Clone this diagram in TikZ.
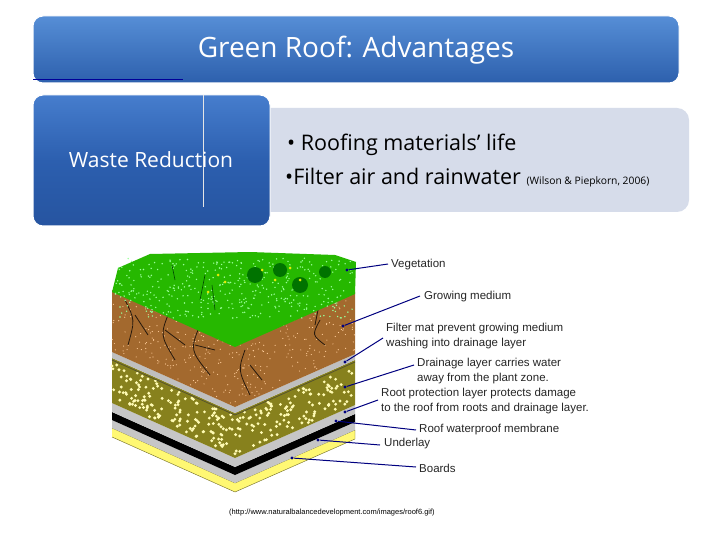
\documentclass[tikz,border=0pt]{standalone}
\usepackage{fontspec}
\setmainfont{Open Sans}
\newfontfamily\arial{Liberation Sans}
\begin{document}
\begin{tikzpicture}[x=1pt,y=-1pt,
  lead/.style={draw=blue!50!black,line width=1pt},
  ldot/.style={circle,fill=blue!50!black,inner sep=1.2pt},
  lab/.style={font=\arial\fontsize{11.5}{15}\selectfont,anchor=west,inner sep=0pt,text=black!85},
  bluebox/.style={rounded corners=10pt,draw=white,line width=1pt}]
\useasboundingbox (0,0) rectangle (720,540);
\fill[white] (0,0) rectangle (720,540);
% title
\shade[bluebox,top color={rgb,255:red,86;green,142;blue,214},bottom color={rgb,255:red,45;green,96;blue,173}] (33,16) rectangle (679,83);
\node[text=white,font=\fontsize{28}{32}\selectfont] (title) at (356,50) {Green Roof: Advantages};
\draw[blue!60!black,line width=0.6pt] (33,79) -- (183,79);
% right box
\fill[rounded corners=12pt,fill={rgb,255:red,214;green,220;blue,234}] (255,108) rectangle (689,212);
\node[anchor=west,font=\fontsize{21.5}{24}\selectfont,inner sep=0pt] (b1) at (287,145) {• Roofing materials’ life};
\node[anchor=west,font=\fontsize{21.5}{24}\selectfont,inner sep=0pt] (b2) at (285,178) {•Filter air and rainwater {\fontsize{10.3}{12}\selectfont(Wilson \& Piepkorn, 2006)}};
% left box
\shade[bluebox,top color={rgb,255:red,70;green,125;blue,205},bottom color={rgb,255:red,38;green,84;blue,160},middle color={rgb,255:red,44;green,95;blue,175}] (33,95) rectangle (270,226);
\draw[white!80!gray,line width=0.8pt] (203,95) -- (203,207);
\node[text=white,font=\fontsize{21}{24}\selectfont] (waste) at (151,160) {Waste Reduction};
% ---------- roof illustration ----------
\def\layer#1#2#3{%
 \fill[#3] (112,#1) -- (235,#1+55) -- (355,#1+2) -- (355,#2+2) -- (235,#2+55) -- (112,#2) -- cycle;}
\layer{428}{437}{yellow!55!white}
\draw[olive!70!black,line width=0.4pt] (112,437) -- (235,492) -- (355,439) -- (355,430) (112,428)--(235,483)--(355,430);
\layer{420}{428}{gray!45}
\layer{412}{420}{black}
\layer{403}{412}{gray!45}
\layer{358}{403}{olive!75!black!85!yellow}
\pgfmathsetseed{7}
\foreach \i in {1,...,260}{
  \pgfmathsetmacro{\u}{rnd}\pgfmathsetmacro{\v}{rnd}
  \pgfmathsetmacro{\px}{112+243*\u}
  \pgfmathsetmacro{\top}{\px<235 ? 358+55*(\px-112)/123 : 413-53*(\px-235)/120}
  \fill[yellow!30!white] (\px,\top+3+\v*39) circle (1.6);}
\layer{352}{358}{gray!50}
\draw[olive!50!black,line width=0.8pt] (112,360) -- (235,415) -- (355,362);
\layer{290}{352}{brown!80!black!90!orange}
\foreach \i in {1,...,300}{
  \pgfmathsetmacro{\u}{rnd}\pgfmathsetmacro{\v}{rnd}
  \pgfmathsetmacro{\px}{112+243*\u}
  \pgfmathsetmacro{\top}{\px<235 ? 290+55*(\px-112)/123 : 345-53*(\px-235)/120}
  \fill[orange!40!white] (\px,\top+\v*60) circle (0.6);}
\draw[black!80!brown,line width=0.8pt]
  (125,300) .. controls (135,320) .. (128,345) (135,315) -- (148,335)
  (170,310) .. controls (160,335) .. (175,360) (165,330) -- (185,345)
  (200,325) .. controls (190,350) .. (210,375) (195,345) -- (215,350)
  (245,350) .. controls (238,370) .. (250,395) (250,365) -- (262,380)
  (320,320) .. controls (312,335) .. (325,345) (318,310) -- (315,325);
% green top
\fill[green!65!black!80!lime] (112,292) -- (235,347) -- (355,294) -- (356,262) -- (335,255) -- (250,252) -- (150,254) -- (118,268) -- cycle;
\foreach \i in {1,...,400}{
  \pgfmathsetmacro{\px}{115+238*rnd}\pgfmathsetmacro{\py}{258+60*rnd}
  \fill[green!40!white] (\px,\py) circle (0.8);}
\fill[green!45!black] (255,275) circle (8) (280,270) circle (7) (300,285) circle (8) (325,272) circle (6);
\foreach \p in {(218,275),(225,282),(208,292),(262,270),(275,280),(290,268),(300,280)}
  \fill[yellow!90!green] \p circle (1.5);
\draw[green!30!black,line width=0.6pt] (200,300) -- (205,275) (215,310) -- (212,285) (175,280) -- (172,265);
% leaders
\coordinate (c1) at (388,264); \coordinate (c2) at (420,296); \coordinate (c3) at (383,338);
\coordinate (c4) at (414,365); \coordinate (c5) at (378,400); \coordinate (c6) at (416,430);
\coordinate (c7) at (380,445); \coordinate (c8) at (416,467);
\node[ldot] (d1) at (347,270) {}; \node[ldot] (d2) at (343,326) {}; \node[ldot] (d3) at (345,362) {};
\node[ldot] (d4) at (345,387) {}; \node[ldot] (d5) at (345,412) {}; \node[ldot] (d6) at (336,421) {};
\node[ldot] (d7) at (318,440) {}; \node[ldot] (d8) at (292,458) {};
\foreach \a in {1,...,8} \draw[lead] (d\a) -- (c\a);
\node[lab] (l1) at (391,265) {Vegetation};
\node[lab] (l2) at (424,297) {Growing medium};
\node[lab,align=left,anchor=north west] (l3) at (386,323) {Filter mat prevent growing medium\\washing into drainage layer};
\node[lab,align=left,anchor=north west] (l4) at (417,358) {Drainage layer carries water\\away from the plant zone.};
\node[lab,align=left,anchor=north west] (l5) at (381,388) {Root protection layer protects damage\\to the roof from roots and drainage layer.};
\node[lab] (l6) at (419,430) {Roof waterproof membrane};
\node[lab] (l7) at (384,444) {Underlay};
\node[lab] (l8) at (419,468) {Boards};
\node[font=\arial\fontsize{7.5}{9}\selectfont] (src) at (332,513) {(http://www.naturalbalancedevelopment.com/images/roof6.gif)};
\end{tikzpicture}
\end{document}
